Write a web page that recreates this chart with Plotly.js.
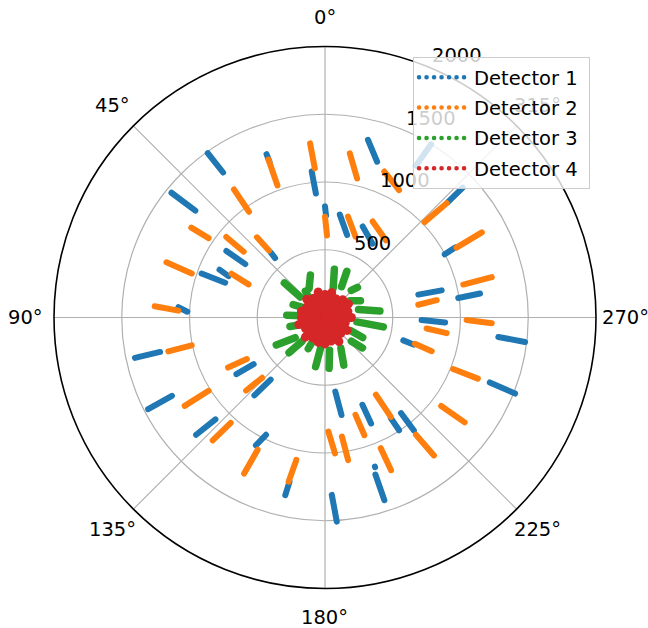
<!DOCTYPE html>
<html><head><meta charset="utf-8">
<script src="https://cdn.plot.ly/plotly-3.0.1.min.js"></script>
<style>
html,body{margin:0;padding:0;background:#fff;}
#chart{width:648px;height:628px;}
path.js-line{stroke-linecap:round !important;}
</style></head><body><div id="chart"></div>
<script>
const seriesNames = ['Detector 1','Detector 2','Detector 3','Detector 4'];
const seriesColors = ['#1f77b4','#ff7f0e','#2ca02c','#d62728'];

// each streak: [theta start, r start, theta end, r end]
const det1 = [
  [35.5,1490,35.1,1308],[19.7,1280,19.6,1220],[5.2,1082,4.2,917],[50.9,1460,50.5,1240],
  [0,820,359.4,752],[39.9,623,40.0,573],[56.0,878,56.2,708],[70.4,967,70.8,780],
  [65.6,855,66.8,775],[86.0,1085,87.6,1017],[346.4,1349,341.5,1212],[351.8,767,345.0,630],
  [337.5,727,327.2,648],[313.2,1244,313.3,1397],[329.1,1306,328.5,1499],[297.8,999,298.3,1091],
  [283.8,709,283.1,884],[278.3,994,278.8,1158],[268.5,713,267.6,887],[263.6,1287,263.0,1488],
  [253.7,602,253.0,683],[248.5,1307,248.2,1511],[187.9,552,189.6,730],[203.2,701,203.5,853],
  [213.2,887,213.3,996],[218.5,901,218.2,1061],[198.5,1161,198.5,1165],[197.8,1217,198.0,1418],
  [182.2,1310,183.3,1509],[102.0,1434,101.8,1243],[122.6,776,123.2,629],[137.8,776,138.8,609],
  [117.4,1470,117.1,1269],[132.3,1286,132.9,1104],[151.6,1072,153.3,969],[167.4,1343,167.8,1239]
];
const det2 = [
  [19.7,1238,19.8,1036],[4.9,1290,3.9,1103],[35.4,1160,35.7,961],[0,744,358.6,606],
  [56.1,1189,55.7,1040],[50.8,940,51.0,772],[40.3,776,39.9,645],[70.8,1239,71.7,1036],
  [64.9,762,66.6,615],[86.2,1260,87.3,1083],[351.4,1225,347.0,1053],[337.9,1163,329.8,1087],
  [347.2,764,339.3,637],[333.6,791,321.6,726],[313.8,1017,313.2,1232],[298.0,1099,298.5,1317],
  [283.4,1049,283.6,1266],[277.8,695,278.8,834],[269.0,1045,268.0,1231],[263.8,754,262.7,905],
  [253.7,691,252.5,826],[248.1,1019,248.2,1215],[232.7,1078,233.1,1289],[213.4,682,213.5,880],
  [197.4,753,198.5,916],[181.7,842,184.2,1006],[188.1,888,189.2,1066],[217.8,1095,218.3,1297],
  [203.1,1048,203.4,1228],[102.2,1183,101.8,1005],[117.3,805,118.0,653],[132.8,793,133.8,643],
  [122.2,1224,122.2,1015],[137.6,1229,138.2,1044],[152.6,1297,153.0,1095],[167.5,1241,168.6,1072]
];
const det3 = [
  [344.4,225,349.0,362],[331.8,258,334.7,377],[28.6,245,18.9,332],[50.5,237,49.6,394],
  [43.0,140,36.6,243],[315.9,279,312.9,327],[304.1,222,295.4,290],[283.3,254,276.7,408],
  [262.1,238,260.9,436],[228.0,262,230.9,356],[243.0,214,242.0,315],[207.2,256,201.5,378],
  [188.0,244,184.6,376],[171.6,232,169.2,369],[152.6,201,151.8,261],[136.1,244,134.4,371],
  [124.1,266,119.4,413],[106.7,181,104.4,267],[85.7,162,86.6,283],[65.4,176,67.9,254]
];
const det4 = [
  [0,0,0,170],[15,0,15,195],[30,0,30,165],[45,0,45,190],[60,0,60,155],[75,0,75,180],
  [90,0,90,175],[105,0,105,200],[120,0,120,165],[135,0,135,205],[150,0,150,175],[165,0,165,190],
  [180,0,180,195],[195,0,195,180],[210,0,210,205],[225,0,225,165],[240,0,240,190],[255,0,255,155],
  [270,0,270,195],[285,0,285,175],[300,0,300,200],[315,0,315,185],[330,0,330,160],[345,0,345,190]
];
const angleTicks = [0,45,90,135,180,225,270,315];
const angleTickText = ['0°','45°','90°','135°','180°','225°','270°','315°'];
const radialTicks = [500,1000,1500,2000];
const radialTickText = ['500','1000','1500','2000'];
const rMax = 2000;

const W = 648, H = 628;
const domX = [54/W, 596/W], domY = [39.5/H, 581.5/H];
const cx = (domX[0]+domX[1])/2*W, cy = (1-(domY[0]+domY[1])/2)*H;
const Rpx = (domX[1]-domX[0])*W/2;
const labelFont = {family:'DejaVu Sans', size:19.5, color:'#000'};

function segTrace(segs, color, width) {
  const r = [], th = [];
  segs.forEach(s => { th.push(s[0], s[2], null); r.push(s[1], s[3], null); });
  return {type:'scatterpolar', mode:'lines', r:r, theta:th, line:{color:color, width:width},
          showlegend:false, hoverinfo:'skip'};
}
const allSegs = [det1, det2, det3, det4];
const widths = [6, 6, 7.5, 9];
const traces = [];
seriesNames.forEach((n,i) => {
  traces.push({type:'scatterpolar', mode:'lines', r:[null], theta:[null], name:n + '\u00a0',
    legendgroup:'g'+i, line:{color:seriesColors[i], width:4.5, dash:'0.1px,7.4px'}, showlegend:true});
});
allSegs.forEach((s,i) => traces.push(segTrace(s, seriesColors[i], widths[i])));

// tick labels placed like matplotlib (angular labels centred at a fixed pad, radial labels at 22.5°)
const annotations = [];
const rad = Math.PI/180;
angleTicks.forEach((t,i) => {
  const d = Rpx + 29;
  const x = cx - d*Math.sin(t*rad), y = cy - d*Math.cos(t*rad);
  annotations.push({xref:'paper', yref:'paper', x:x/W, y:1-y/H, text:angleTickText[i], showarrow:false,
    xanchor:'center', yanchor:'middle', font:labelFont});
});
radialTicks.forEach((v,i) => {
  const rp = v/rMax*Rpx;
  const x = cx + rp*Math.sin(22.5*rad), y = cy - rp*Math.cos(22.5*rad);
  annotations.push({xref:'paper', yref:'paper', x:x/W, y:1-y/H, text:radialTickText[i], showarrow:false,
    xanchor:'left', yanchor:'bottom', xshift:1, yshift:-2, font:labelFont});
});

const layout = {
  width:W, height:H, margin:{l:0,r:0,t:0,b:0},
  paper_bgcolor:'#fff', font:{family:'DejaVu Sans', size:19.5, color:'#000'},
  showlegend:true,
  legend:{x:590/W, y:1-57/H, xanchor:'right', yanchor:'top', bgcolor:'rgba(255,255,255,0.8)',
    bordercolor:'#cccccc', borderwidth:1, font:{size:19.5, family:'DejaVu Sans'}, itemwidth:50,
    tracegroupgap:2},
  annotations:annotations,
  polar:{
    domain:{x:domX, y:domY},
    bgcolor:'#fff',
    angularaxis:{rotation:90, direction:'counterclockwise', tickmode:'array', tickvals:angleTicks,
      showticklabels:false, ticks:'', showline:true,
      linecolor:'#000', linewidth:1.6, gridcolor:'#b0b0b0', gridwidth:1.2},
    radialaxis:{range:[0,rMax], tickmode:'array', tickvals:radialTicks, angle:67.5,
      showticklabels:false, showline:false, ticks:'', gridcolor:'#b0b0b0', gridwidth:1.2}
  }
};
Plotly.newPlot('chart', traces, layout, {displayModeBar:false, staticPlot:true}).then(() => {
  const info = document.querySelector('.infolayer');
  const lg = info && info.querySelector('g.legend');
  if (lg) info.appendChild(lg);
});
</script></body></html>
